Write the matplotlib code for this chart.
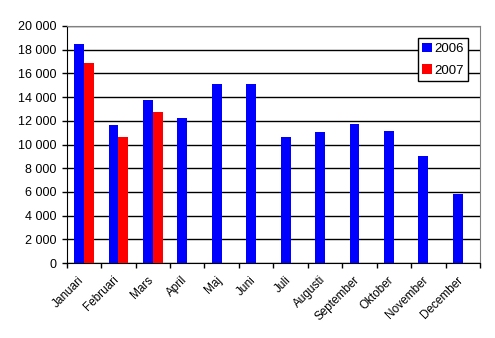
import matplotlib
matplotlib.use("Agg")
import matplotlib.pyplot as plt
import numpy as np
from matplotlib.ticker import FuncFormatter, FixedLocator, NullFormatter

plt.rcParams['font.family'] = ['Liberation Sans', 'DejaVu Sans']

months = ["Januari", "Februari", "Mars", "April", "Maj", "Juni", "Juli",
          "Augusti", "September", "Oktober", "November", "December"]
s2006 = [18500, 11650, 13750, 12250, 15100, 15100, 10650, 11050, 11750, 11150, 9050, 5800]
s2007 = [16900, 10600, 12750]
labels = ["2006", "2007"]

fig = plt.figure(figsize=(4.95, 3.38), dpi=100)
ax = fig.add_axes([66.7/495, 1 - 263/338, (480 - 66.7)/495, (263 - 26)/338])

x = np.arange(len(months))
w = 1 / 3.5
ax.bar(x - w/2, s2006, width=w, color='#0000ff', label=labels[0], zorder=3)
ax.bar(x[:len(s2007)] + w/2, s2007, width=w, color='#ff0000', label=labels[1], zorder=3)

ax.set_xlim(-0.5, len(months) - 0.5)
ax.set_ylim(0, 20000)
ax.set_yticks(np.arange(0, 20001, 2000))
ax.yaxis.set_major_formatter(FuncFormatter(lambda v, p: f"{int(v):,}".replace(",", " ")))
ax.yaxis.grid(True, color='black', linewidth=1.0, zorder=1)

ax.xaxis.set_major_locator(FixedLocator(np.arange(-0.5, len(months), 1.0)))
ax.xaxis.set_major_formatter(NullFormatter())
ax.xaxis.set_minor_locator(FixedLocator(x - 0.17))
ax.set_xticklabels(months, minor=True, rotation=45, ha='right', va='top',
                   rotation_mode='anchor', fontsize=8.5)
ax.tick_params(axis='x', which='minor', length=0, pad=8)
ax.tick_params(axis='x', which='major', length=3.6, width=1, color='black', direction='out')
ax.tick_params(axis='y', length=3.6, width=1, color='black', direction='out', labelsize=9, pad=4)

for s in ['top', 'right']:
    ax.spines[s].set_color('#808080')
for s in ['left', 'bottom']:
    ax.spines[s].set_color('black')

leg = ax.legend(loc='upper right', bbox_to_anchor=((468.3 - 66.7)/(480 - 66.7), (263 - 38.3)/237),
                frameon=True, fancybox=False, edgecolor='black', framealpha=1,
                fontsize=9.5, handlelength=0.7, handleheight=0.7, handletextpad=0.2,
                borderpad=0.35, labelspacing=0.7, borderaxespad=0)
leg.get_frame().set_linewidth(1.0)
leg.set_zorder(5)

fig.savefig("out.png", dpi=100)
